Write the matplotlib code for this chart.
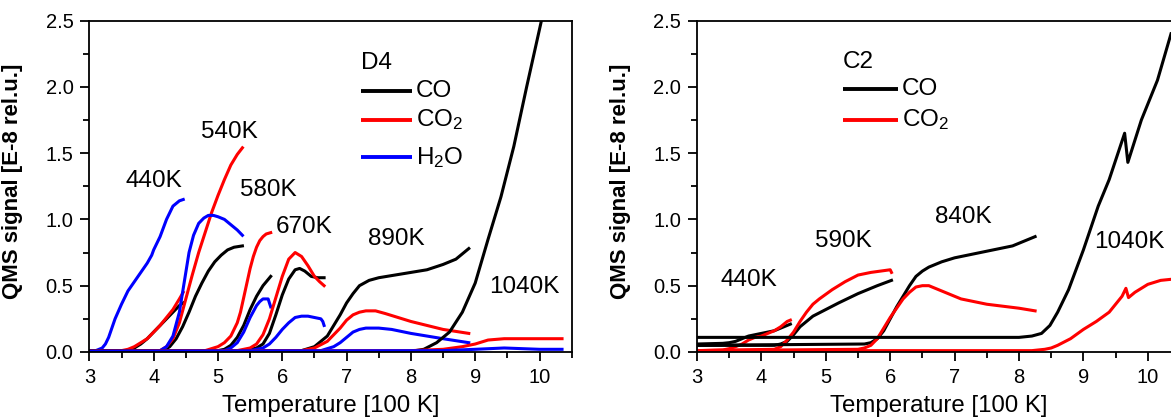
import matplotlib
matplotlib.use('Agg')
import matplotlib.pyplot as plt
from matplotlib.ticker import MultipleLocator, FormatStrFormatter

plt.rcParams['font.family'] = ['Liberation Sans', 'DejaVu Sans']
plt.rcParams['mathtext.fontset'] = 'custom'
plt.rcParams['mathtext.rm'] = 'Liberation Sans'
plt.rcParams['mathtext.it'] = 'Liberation Sans'

# ---- Panel D4 (CO, CO2, H2O) : one curve per heating run ----
D4_CO_440 = ([3.0, 3.6, 3.7, 3.8, 3.9, 4.0, 4.1, 4.2, 4.3, 4.4, 4.46],
             [0.005, 0.01, 0.03, 0.06, 0.1, 0.15, 0.2, 0.25, 0.3, 0.35, 0.37])
D4_CO2_440 = ([3.0, 3.5, 3.6, 3.7, 3.8, 3.9, 4.0, 4.1, 4.2, 4.3, 4.4, 4.46],
              [0.005, 0.01, 0.02, 0.04, 0.07, 0.1, 0.15, 0.2, 0.26, 0.32, 0.4, 0.45])
D4_H2O_440 = ([3.0, 3.1, 3.15, 3.2, 3.25, 3.3, 3.35, 3.4, 3.5, 3.6, 3.7, 3.8, 3.9, 3.97, 4.0,
               4.1, 4.2, 4.3, 4.4, 4.46],
              [0.01, 0.01, 0.02, 0.03, 0.06, 0.11, 0.18, 0.25, 0.36, 0.46, 0.53, 0.6, 0.67, 0.73,
               0.77, 0.87, 1.0, 1.1, 1.14, 1.15])

D4_CO_540 = ([3.0, 4.15, 4.25, 4.35, 4.45, 4.55, 4.65, 4.75, 4.85, 4.95, 5.05, 5.15, 5.25, 5.38],
             [0.005, 0.01, 0.04, 0.1, 0.19, 0.3, 0.42, 0.52, 0.61, 0.68, 0.73, 0.77, 0.79, 0.8])
D4_CO2_540 = ([3.0, 4.1, 4.2, 4.3, 4.4, 4.5, 4.6, 4.7, 4.8, 4.9, 5.0, 5.1, 5.2, 5.3, 5.38],
              [0.005, 0.01, 0.04, 0.1, 0.22, 0.4, 0.58, 0.75, 0.9, 1.05, 1.18, 1.3, 1.41, 1.49, 1.54])
D4_H2O_540 = ([3.0, 4.1, 4.2, 4.3, 4.4, 4.45, 4.5, 4.55, 4.62, 4.7, 4.78, 4.85, 4.93, 5.0, 5.1,
               5.2, 5.3, 5.38],
              [0.005, 0.01, 0.04, 0.12, 0.3, 0.45, 0.6, 0.75, 0.88, 0.97, 1.01, 1.03, 1.03, 1.02,
               1.0, 0.96, 0.92, 0.88])

D4_CO_580 = ([3.0, 5.0, 5.1, 5.2, 5.3, 5.4, 5.5, 5.6, 5.7, 5.82],
             [0.005, 0.01, 0.02, 0.05, 0.11, 0.2, 0.32, 0.42, 0.5, 0.57])
D4_CO2_580 = ([3.0, 4.8, 5.0, 5.1, 5.2, 5.3, 5.35, 5.4, 5.45, 5.5, 5.55, 5.6, 5.65, 5.7, 5.75,
               5.82],
              [0.005, 0.01, 0.04, 0.07, 0.12, 0.22, 0.3, 0.41, 0.52, 0.63, 0.72, 0.79, 0.84, 0.87,
               0.89, 0.9])
D4_H2O_580 = ([3.0, 5.1, 5.2, 5.3, 5.4, 5.5, 5.6, 5.65, 5.7, 5.78, 5.8, 5.82],
              [0.005, 0.01, 0.03, 0.07, 0.15, 0.26, 0.35, 0.38, 0.4, 0.4, 0.37, 0.34])

D4_CO_670 = ([3.0, 5.4, 5.6, 5.7, 5.8, 5.9, 6.0, 6.1, 6.2, 6.27, 6.35, 6.45, 6.55, 6.65],
             [0.005, 0.01, 0.03, 0.06, 0.14, 0.28, 0.43, 0.55, 0.62, 0.63, 0.61, 0.57, 0.56, 0.56])
D4_CO2_670 = ([3.0, 5.3, 5.5, 5.6, 5.7, 5.8, 5.9, 6.0, 6.1, 6.2, 6.3, 6.4, 6.5, 6.58, 6.65],
              [0.005, 0.01, 0.03, 0.06, 0.13, 0.25, 0.41, 0.57, 0.7, 0.75, 0.72, 0.65, 0.57, 0.53,
               0.5])
D4_H2O_670 = ([3.0, 5.5, 5.7, 5.8, 5.9, 6.0, 6.1, 6.2, 6.3, 6.4, 6.5, 6.6, 6.63, 6.65],
              [0.005, 0.01, 0.03, 0.06, 0.11, 0.17, 0.22, 0.26, 0.27, 0.27, 0.26, 0.25, 0.23, 0.2])

D4_CO_890 = ([3.0, 6.3, 6.5, 6.7, 6.9, 7.0, 7.1, 7.2, 7.35, 7.5, 7.75, 8.0, 8.25, 8.5, 8.7, 8.8,
              8.9],
             [0.005, 0.01, 0.04, 0.12, 0.28, 0.37, 0.44, 0.5, 0.54, 0.56, 0.58, 0.6, 0.62, 0.66,
              0.7, 0.74, 0.78])
D4_CO2_890 = ([3.0, 6.3, 6.5, 6.7, 6.9, 7.0, 7.1, 7.2, 7.3, 7.45, 7.6, 8.0, 8.5, 8.9],
              [0.005, 0.01, 0.03, 0.08, 0.18, 0.24, 0.28, 0.3, 0.31, 0.31, 0.29, 0.23, 0.17, 0.14])
D4_H2O_890 = ([3.0, 6.6, 6.8, 6.9, 7.0, 7.1, 7.2, 7.3, 7.5, 7.7, 8.0, 8.5, 8.9],
              [0.005, 0.01, 0.04, 0.07, 0.11, 0.15, 0.17, 0.18, 0.18, 0.17, 0.14, 0.1, 0.07])

D4_CO_1040 = ([3.0, 8.0, 8.2, 8.4, 8.6, 8.8, 9.0, 9.2, 9.4, 9.6, 9.8, 10.03, 10.1],
              [0.005, 0.005, 0.02, 0.07, 0.15, 0.3, 0.52, 0.85, 1.17, 1.55, 2.0, 2.5, 2.65])
D4_CO2_1040 = ([3.0, 8.0, 8.5, 8.8, 9.0, 9.2, 9.45, 10.0, 10.35],
               [0.005, 0.01, 0.02, 0.04, 0.06, 0.09, 0.1, 0.1, 0.1])
D4_H2O_1040 = ([3.0, 8.5, 9.0, 9.45, 10.0, 10.35],
               [0.005, 0.01, 0.02, 0.03, 0.02, 0.02])

D4_LABELS = ["440K", "540K", "580K", "670K", "890K", "1040K"]
D4_LABEL_X = [4.01, 5.18, 5.78, 6.34, 7.77, 9.77]
D4_LABEL_Y = [1.29, 1.66, 1.22, 0.94, 0.85, 0.49]

# ---- Panel C2 (CO, CO2) ----
C2_CO_440 = ([3.0, 3.4, 3.5, 3.6, 3.7, 3.8, 3.9, 4.0, 4.1, 4.2, 4.3, 4.45],
             [0.06, 0.065, 0.07, 0.08, 0.1, 0.12, 0.13, 0.14, 0.15, 0.16, 0.18, 0.21])
C2_CO2_440 = ([3.0, 3.4, 3.5, 3.6, 3.7, 3.8, 3.9, 4.0, 4.1, 4.2, 4.3, 4.4, 4.45],
              [0.01, 0.015, 0.025, 0.04, 0.06, 0.09, 0.11, 0.12, 0.14, 0.16, 0.19, 0.23, 0.24])

C2_CO_590 = ([3.0, 4.2, 4.3, 4.4, 4.5, 4.6, 4.7, 4.8, 5.0, 5.2, 5.5, 5.8, 6.02],
             [0.05, 0.05, 0.06, 0.08, 0.13, 0.19, 0.23, 0.27, 0.32, 0.37, 0.44, 0.5, 0.54])
C2_CO2_590 = ([3.0, 4.2, 4.3, 4.4, 4.5, 4.6, 4.7, 4.8, 4.9, 5.1, 5.3, 5.5, 5.7, 5.85, 6.0, 6.02],
              [0.01, 0.02, 0.04, 0.09, 0.15, 0.23, 0.3, 0.36, 0.4, 0.47, 0.53, 0.58, 0.6, 0.61,
               0.62, 0.6])

C2_CO_840 = ([3.0, 5.6, 5.7, 5.8, 5.9, 6.0, 6.1, 6.2, 6.3, 6.4, 6.5, 6.6, 6.8, 7.0, 7.3, 7.6,
              7.9, 8.1, 8.25],
             [0.05, 0.06, 0.07, 0.1, 0.16, 0.25, 0.34, 0.42, 0.5, 0.57, 0.61, 0.64, 0.68, 0.71,
              0.74, 0.77, 0.8, 0.84, 0.87])
C2_CO2_840 = ([3.0, 5.5, 5.6, 5.7, 5.8, 5.9, 6.0, 6.1, 6.2, 6.3, 6.4, 6.5, 6.6, 6.7, 6.8, 7.1,
               7.5, 8.0, 8.25],
              [0.01, 0.02, 0.03, 0.05, 0.1, 0.18, 0.26, 0.33, 0.4, 0.45, 0.49, 0.5, 0.5, 0.48,
               0.46, 0.4, 0.36, 0.33, 0.31])

C2_CO_1040 = ([3.0, 8.0, 8.2, 8.35, 8.48, 8.6, 8.77, 9.0, 9.23, 9.4, 9.64, 9.69, 9.9, 10.15,
               10.36],
              [0.11, 0.11, 0.12, 0.14, 0.2, 0.3, 0.47, 0.77, 1.1, 1.3, 1.65, 1.43, 1.75, 2.05,
               2.4])
C2_CO2_1040 = ([3.0, 8.2, 8.4, 8.5, 8.6, 8.8, 9.0, 9.2, 9.4, 9.6, 9.66, 9.7, 9.8, 10.0, 10.2,
                10.4],
               [0.01, 0.01, 0.02, 0.03, 0.05, 0.1, 0.17, 0.23, 0.3, 0.42, 0.48, 0.41, 0.45, 0.51,
                0.54, 0.55])

C2_LABELS = ["440K", "590K", "840K", "1040K"]
C2_LABEL_X = [3.81, 5.27, 7.13, 9.72]
C2_LABEL_Y = [0.54, 0.84, 1.02, 0.83]

COLORS = {"CO": "black", "CO2": "red", "H2O": "blue"}
LW = 2.2
FS_TEXT = 17.5


def style_axes(ax):
    """Origin-like frame: ticks outward on bottom/left only."""
    ax.set_xlim(3, 10.5)
    ax.set_ylim(0, 2.5)
    ax.xaxis.set_major_locator(MultipleLocator(1))
    ax.xaxis.set_minor_locator(MultipleLocator(0.5))
    ax.yaxis.set_major_locator(MultipleLocator(0.5))
    ax.yaxis.set_minor_locator(MultipleLocator(0.25))
    ax.yaxis.set_major_formatter(FormatStrFormatter("%.1f"))
    ax.tick_params(which="major", direction="out", length=6.5, width=1.3,
                   labelsize=14.5, pad=5, top=False, right=False)
    ax.tick_params(which="minor", direction="out", length=4.5, width=1.3,
                   top=False, right=False)
    for s in ax.spines.values():
        s.set_linewidth(1.3)
    ax.set_xlabel("Temperature [100 K]", fontsize=17.3, labelpad=6)
    ax.set_ylabel("QMS signal [E-8 rel.u.]", fontsize=16, fontweight="bold")
    ax.yaxis.set_label_coords(-0.137, 0.515)


def plot_legend(ax, x0, x1, x_text, y_title, title, rows):
    ax.text(x0, y_title, title, fontsize=FS_TEXT, va="center", ha="left")
    for y, key, label in rows:
        ax.plot([x0, x1], [y, y], color=COLORS[key], lw=LW + 0.6, solid_capstyle="butt")
        ax.text(x_text, y, label, fontsize=FS_TEXT, va="center", ha="left")


fig = plt.figure(figsize=(11.71, 4.19), dpi=100)
ax1 = fig.add_axes([0.0763, 0.160, 0.4119, 0.791])
ax2 = fig.add_axes([0.5952, 0.160, 0.4125, 0.791])

# Left panel: D4
d4_runs = [
    (D4_CO_440, D4_CO2_440, D4_H2O_440),
    (D4_CO_540, D4_CO2_540, D4_H2O_540),
    (D4_CO_580, D4_CO2_580, D4_H2O_580),
    (D4_CO_670, D4_CO2_670, D4_H2O_670),
    (D4_CO_890, D4_CO2_890, D4_H2O_890),
    (D4_CO_1040, D4_CO2_1040, D4_H2O_1040),
]
for co, co2, h2o in d4_runs:
    ax1.plot(*co, color=COLORS["CO"], lw=LW)
    ax1.plot(*co2, color=COLORS["CO2"], lw=LW)
    ax1.plot(*h2o, color=COLORS["H2O"], lw=LW)
for lab, x, y in zip(D4_LABELS, D4_LABEL_X, D4_LABEL_Y):
    ax1.text(x, y, lab, fontsize=FS_TEXT, ha="center", va="center")
plot_legend(ax1, 7.23, 8.01, 8.08, 2.18, "D4",
            [(1.97, "CO", "CO"), (1.75, "CO2", "CO$_2$"), (1.47, "H2O", "H$_2$O")])
style_axes(ax1)

# Right panel: C2
c2_runs = [
    (C2_CO_440, C2_CO2_440),
    (C2_CO_590, C2_CO2_590),
    (C2_CO_840, C2_CO2_840),
    (C2_CO_1040, C2_CO2_1040),
]
for co, co2 in c2_runs:
    ax2.plot(*co, color=COLORS["CO"], lw=LW)
    ax2.plot(*co2, color=COLORS["CO2"], lw=LW)
for lab, x, y in zip(C2_LABELS, C2_LABEL_X, C2_LABEL_Y):
    ax2.text(x, y, lab, fontsize=FS_TEXT, ha="center", va="center")
plot_legend(ax2, 5.27, 6.12, 6.18, 2.19, "C2",
            [(1.98, "CO", "CO"), (1.75, "CO2", "CO$_2$")])
style_axes(ax2)

fig.savefig("out.png", dpi=100)
